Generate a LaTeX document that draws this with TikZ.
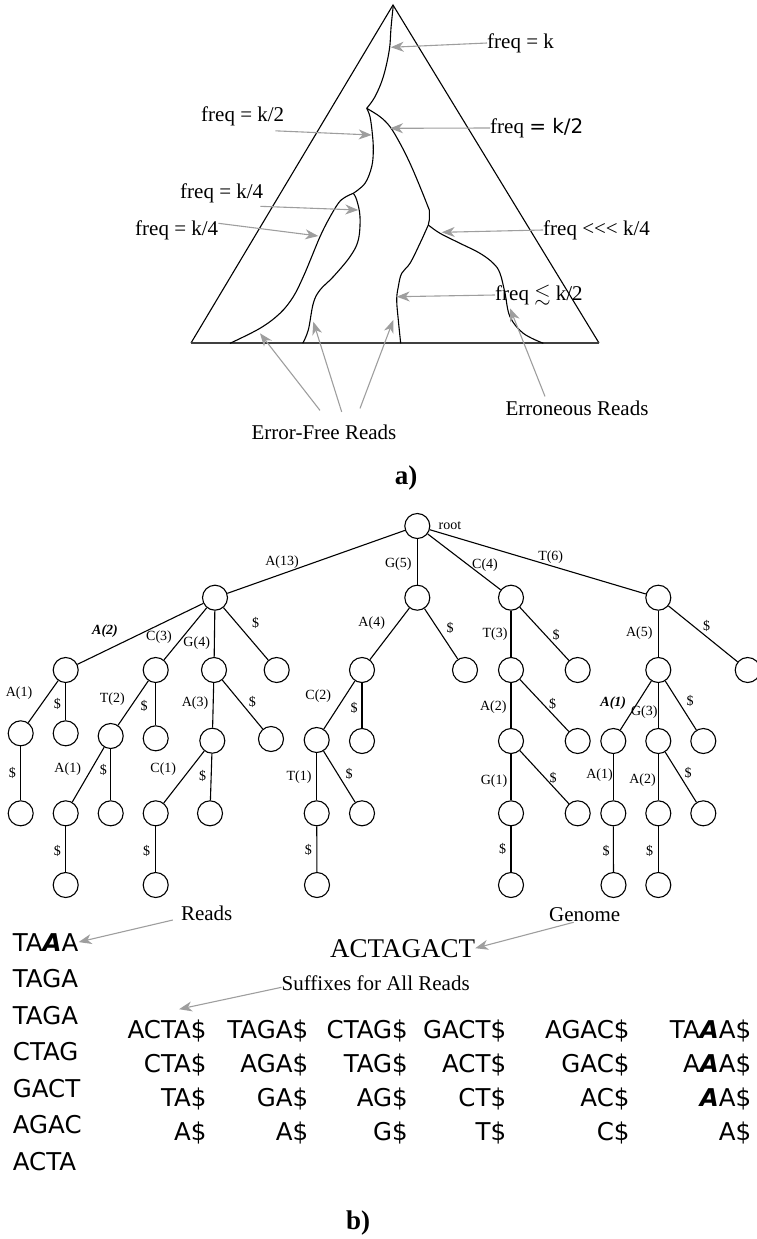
\documentclass[tikz,border=0pt]{standalone}
\usepackage{amsmath,amssymb}
\usepackage{fontspec}
\setmainfont{Liberation Serif}
\newfontfamily\seqfont{DejaVu Sans}
\usetikzlibrary{arrows.meta}
\definecolor{ptrgray}{gray}{0.62}
% the base that was read wrongly
\newcommand{\errA}{\textbf{\textit{A}}}

\begin{document}
\begin{tikzpicture}[x=1pt, y=-1pt,
  lab/.style={font=\fontsize{21}{24}\selectfont, inner sep=0pt},
  ptr/.style={ptrgray, line width=1.1pt, -{Stealth[length=13pt,width=10pt,inset=4pt]}},
  br/.style={line width=1.1pt, line join=round},
  vtx/.style={circle, draw, line width=1.1pt, minimum size=25pt, inner sep=0pt},
  elab/.style={font=\fontsize{14}{16}\selectfont, inner sep=0pt},
  seq/.style={font=\seqfont\fontsize{24.5}{30}\selectfont, inner sep=0pt}]
\useasboundingbox (0,0) rectangle (756,1239);

% a) the read tree as a triangle
\draw[line width=1.1pt, line join=miter] (191,343) -- (393,5) -- (599,343);
\draw[line width=1.6pt, black!75] (191,343) -- (599,343);
\draw[br] plot[smooth, tension=0.6] coordinates {(393.3,5) (391,28) (389.3,50) (383.3,76.7) (375,96.7) (366.7,108.3)};
\draw[br] plot[smooth, tension=0.6] coordinates {(366.7,108.3) (370,116.7) (372.3,133.3) (373.3,150) (371.7,166.7) (365,183.3) (353.3,193.3)};
\draw[br] plot[smooth, tension=0.6] coordinates {(366.7,108.3) (380,116.7) (390,126.7) (400,143.3) (410,163.3) (420,186.7) (429.3,210)} -- (429.3,220) -- (428.3,225);
\draw[br] plot[smooth, tension=0.6] coordinates {(353.3,193.3) (345,197.3) (338.3,203.3) (328.3,220) (320,236.7) (311.7,256.7) (303.3,276.7) (293.3,296.7) (280,313.3) (260,328.3) (230,343.3)};
\draw[br] plot[smooth, tension=0.6] coordinates {(353.3,193.3) (356.7,200) (360,216.7) (358.3,240) (350,256.7) (333.3,276.7) (320,290) (313.3,303.3) (308.3,330) (302.7,343.3)};
\draw[br] plot[smooth, tension=0.6] coordinates {(428.3,225) (420,243.3) (410,263.3) (401.7,273.3) (398.3,286.7) (396.7,300) (398.3,320) (400.7,343.3)};
\draw[br] plot[smooth, tension=0.6] coordinates {(428.3,225) (440,233.3) (460,243.3) (480,253.3) (493.3,263.3) (500,273.3) (505,293.3) (510,316.7) (523.3,333.3) (543.3,343.3)};

\node[lab, anchor=west] (fk) at (487,43) {freq = k};
\node[lab, anchor=west] (fh1) at (201,116) {freq = k/2};
\node[lab, anchor=west] (fh2) at (490,128) {freq {\seqfont\fontsize{20}{24}\selectfont= k/2}};
\node[lab, anchor=west] (fq1) at (180,193) {freq = k/4};
\node[lab, anchor=west] (fq2) at (135,230) {freq = k/4};
\node[lab, anchor=west] (flow) at (543,230) {freq <{}<{}< k/4};
\node[lab, anchor=west] (fle) at (495,295) {freq $\lesssim$ k/2};
\node[lab] (ern) at (577,408) {Erroneous Reads};
\node[lab] (efr) at (324,432) {Error-Free Reads};
\node[font=\fontsize{27}{30}\selectfont\bfseries, inner sep=0pt] (pa) at (406,478) {a)};

% where the arrows hit the branches
\coordinate (tk) at (390.7,47.3);
\coordinate (th1) at (371.7,135);
\coordinate (th2) at (390,128.3);
\coordinate (tq1) at (358.3,210);
\coordinate (tq2) at (318.3,236);
\coordinate (tlow) at (441.7,232.3);
\coordinate (tle) at (396.7,296.7);
\coordinate (ter) at (510,308.3);
\coordinate (tf1) at (260,333.3);
\coordinate (tf2) at (313.3,321.7);
\coordinate (tf3) at (393.3,320);

\draw[ptr] (fk.west) -- (tk);
\draw[ptr] ([xshift=-9pt,yshift=-5pt]fh1.south east) -- (th1);
\draw[ptr] (fh2.west) -- (th2);
\draw[ptr] ([xshift=-3pt,yshift=-3.5pt]fq1.south east) -- (tq1);
\draw[ptr] ([yshift=6.7pt]fq2.east) -- (tq2);
\draw[ptr] (flow.west) -- (tlow);
\draw[ptr] (fle.west) -- (tle);
\draw[ptr] ([xshift=-32pt,yshift=4pt]ern.north) -- (ter);
\draw[ptr] ([xshift=-4pt,yshift=14pt]efr.north) -- (tf1);
\draw[ptr] ([xshift=17.7pt,yshift=12.5pt]efr.north) -- (tf2);
\draw[ptr] ([xshift=36pt,yshift=16pt]efr.north) -- (tf3);

% b) suffix trie
\foreach \n/\x/\y in {r/417.3/526,
  nA/215/597.7, nG/417.3/597.7, nC/511/597.7, nT/658.3/597.7,
  nAA/65.7/670, nAC/155.7/670, nAG/214/670, nAS/276.7/670,
  nGA/362/670, nGS/465/670, nCT/511/670, nCS/577.7/670, nTA/658.3/670, nTS/747.7/670,
  nAAA/20.7/733.3, nAAS/65.7/733.3, nACT/110.7/736, nACS/155.7/738.3, nAGA/212.3/740.7, nAGS/271/739,
  nGAC/316.7/740, nGAS/362/741, nCTA/511/741, nCTS/577.7/741, nTAA/613.3/741, nTAG/658.3/741, nTAS/703.3/741,
  nAAAS/20.7/813.3, nACTA/65.7/813.3, nACTS/110.7/813.3, nAGAC/155.7/813.3, nAGAS/210/813.3,
  nGACT/316.7/813.3, nGACS/362/813.3, nCTAG/511/813.3, nCTAS/577.7/813.3,
  nTAAA/613.3/813.3, nTAGA/658.3/813.3, nTAGS/703.3/813.3,
  nACTAS/65.7/885, nAGACS/155.7/885, nGACTS/317/885, nCTAGS/511/885, nTAAAS/613.5/885, nTAGAS/658.3/885}
  \node[vtx] (\n) at (\x,\y) {};
\node[elab] (rootlbl) at (450,526) {root};

\foreach \p/\c/\t/\lx/\ly [count=\i] in {
  r/nA/{A(13)}/282/562, r/nG/{G(5)}/398.3/564.3, r/nC/{C(4)}/485/565, r/nT/{T(6)}/550.7/556.7,
  nA/nAA/{\textbf{\textit{A(2)}}}/105/631, nA/nAC/{C(3)}/159/636.7, nA/nAG/{G(4)}/196.7/642.7, nA/nAS/\$/255.7/623.3,
  nG/nGA/{A(4)}/371.7/623.3, nG/nGS/\$/450/627.7,
  nC/nCT/{T(3)}/495/634, nC/nCS/\$/556/635,
  nT/nTA/{A(5)}/639.3/632.7, nT/nTS/\$/706.7/626,
  nAA/nAAA/{A(1)}/19/693.3, nAA/nAAS/\$/57.3/704.3,
  nAC/nACT/{T(2)}/112.3/699, nAC/nACS/\$/144/706,
  nAG/nAGA/{A(3)}/195/702.7, nAG/nAGS/\$/252.3/701.7,
  nGA/nGAC/{C(2)}/318.3/696, nGA/nGAS/\$/354/708.3,
  nCT/nCTA/{A(2)}/493.3/707.3, nCT/nCTS/\$/552.7/704,
  nTA/nTAA/{\textbf{\textit{A(1)}}}/613.3/703.3, nTA/nTAG/{G(3)}/644.3/711.7, nTA/nTAS/\$/690/701,
  nAAA/nAAAS/\$/12.3/773, nACT/nACTA/{A(1)}/67.7/769, nACT/nACTS/\$/103.3/770,
  nAGA/nAGAC/{C(1)}/163.3/769, nAGA/nAGAS/\$/202.7/776,
  nGAC/nGACT/{T(1)}/299/777, nGAC/nGACS/\$/349/774,
  nCTA/nCTAG/{G(1)}/494/781, nCTA/nCTAS/\$/553/778,
  nTAA/nTAAA/{A(1)}/599.5/775, nTAG/nTAGA/{A(2)}/642.5/780, nTAG/nTAGS/\$/688/773.3,
  nACTA/nACTAS/\$/57.3/850.5, nAGAC/nAGACS/\$/146.7/850.5, nGACT/nGACTS/\$/308.3/850,
  nCTAG/nCTAGS/\$/502.5/849.3, nTAAA/nTAAAS/\$/606/850.5, nTAGA/nTAGAS/\$/649.5/851}
{
  \draw[br] (\p) -- (\c);
  \node[elab] (e\i) at (\lx,\ly) {\t};
}

% reads, genome and their suffixes
\foreach \w [count=\i] in {TA\errA A, TAGA, TAGA, CTAG, GACT, AGAC, ACTA}
  \node[seq, anchor=base west] (rd\i) at (12.7,{951+36.5*(\i-1)}) {\w};
\node[font=\fontsize{27}{30}\selectfont, inner sep=0pt, anchor=base west] (gen) at (330,957) {ACTAGACT};

\foreach \xr/\sfa/\sfb/\sfc/\sfd [count=\i] in {206.7/ACTA/CTA/TA/A, 308.3/TAGA/AGA/GA/A,
  408/CTAG/TAG/AG/G, 506.3/GACT/ACT/CT/T, 629.7/AGAC/GAC/AC/C, 751.3/TA\errA A/A\errA A/\errA A/A}
{
  \node[seq, anchor=base east] (s\i-1) at (\xr,1038) {\sfa\$};
  \node[seq, anchor=base east] (s\i-2) at (\xr,1072) {\sfb\$};
  \node[seq, anchor=base east] (s\i-3) at (\xr,1106) {\sfc\$};
  \node[seq, anchor=base east] (s\i-4) at (\xr,1140) {\sfd\$};
}

\node[lab] (rdl) at (206.7,913) {Reads};
\node[lab] (gnl) at (584.7,915) {Genome};
\node[lab] (sfl) at (375.7,983.3) {Suffixes for All Reads};
\draw[ptr] ([xshift=-8pt,yshift=-7pt]rdl.west) -- (rd1.east);
\draw[ptr] ([xshift=-11pt]gnl.south) -- (gen.east);
\draw[ptr] ([yshift=-4pt]sfl.west) -- ([xshift=12pt,yshift=10pt]s1-1.north);

\node[font=\fontsize{27}{30}\selectfont\bfseries, inner sep=0pt] (pb) at (358,1223) {b)};
\end{tikzpicture}
\end{document}
